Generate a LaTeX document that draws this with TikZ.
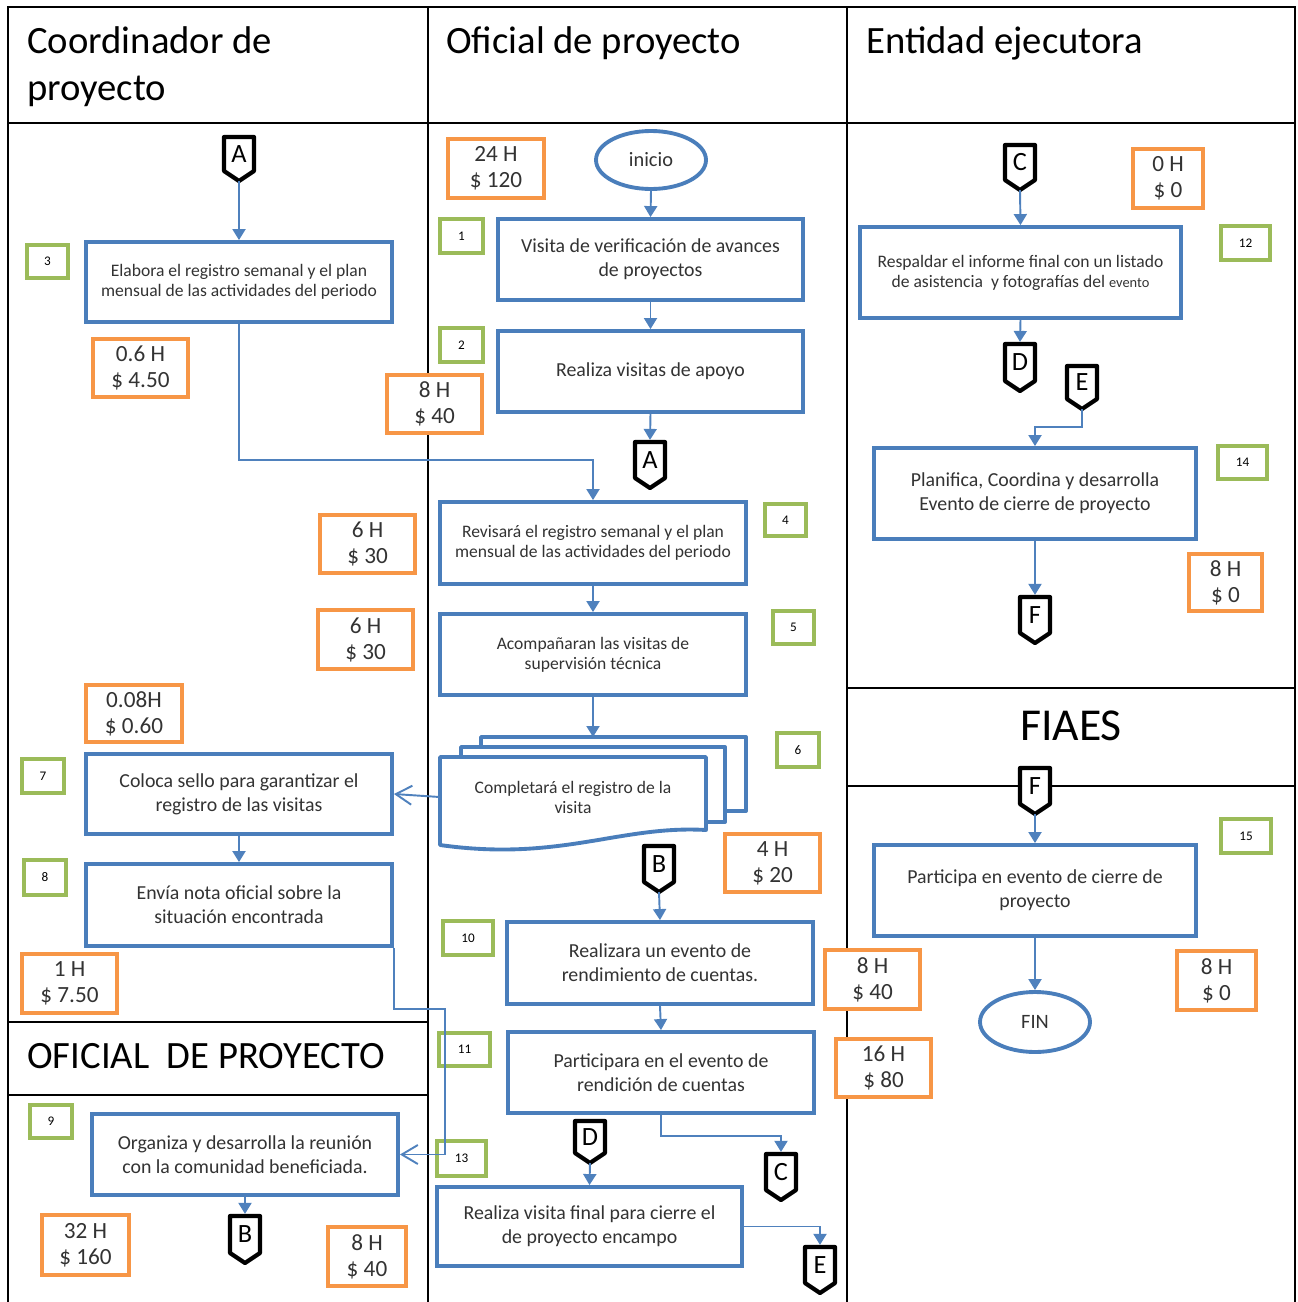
\documentclass[tikz,border=0pt]{standalone}
\usepackage{fontspec}
\setmainfont{Carlito}
\usetikzlibrary{arrows.meta,shapes.geometric}

\definecolor{boxblue}{HTML}{4A7EBB}
\definecolor{lineblue}{HTML}{4F81BD}
\definecolor{costorange}{HTML}{F79646}
\definecolor{numgreen}{HTML}{9BBB59}
\definecolor{txt}{HTML}{333333}

% process box given by its outer corners (x1,y1) (x2,y2)
\newcommand\procbox[7][]{%
  \node[proc,#1,minimum width={(#5-#3-4)*0.02cm},minimum height={(#6-#4-4)*0.02cm}]
    (#2) at ({(#3+#5)/2},{(#4+#6)/2}) {#7};}
% cost label (hours and money)
\newcommand\costbox[6]{%
  \node[cost,minimum width={(#4-#2-4)*0.02cm},minimum height={(#5-#3-4)*0.02cm}]
    (#1) at ({(#2+#4)/2},{(#3+#5)/2}) {#6};}
% step number
\newcommand\numbox[6]{%
  \node[num,minimum width={(#4-#2-4)*0.02cm},minimum height={(#5-#3-4)*0.02cm}]
    (#1) at ({(#2+#4)/2},{(#3+#5)/2}) {#6};}
% off-page connector: name, centre x, top y, tip y, letter
\newcommand\offpage[5]{%
  \filldraw[opline] ({#2-15},{#3+2}) -- ({#2+15},{#3+2}) -- ({#2+15},{#4-12})
    -- (#2,{#4-2}) -- ({#2-15},{#4-12}) -- cycle;
  \node[opbody,minimum height={(#4-#3-14)*0.02cm}] (#1) at (#2,{(#3+#4-10)/2}) {#5};
  \coordinate (#1-tip) at (#2,{#4-2});}

\begin{document}
\begin{tikzpicture}[x=0.02cm,y=-0.02cm,
  lane/.style={draw=black,line width=1.4pt},
  head/.style={inner sep=0pt,align=left,text=black,font=\fontsize{22}{26.7}\selectfont},
  headbig/.style={inner sep=0pt,text=black,font=\fontsize{26}{30}\selectfont},
  proc/.style={draw=boxblue,line width=2.2pt,fill=white,inner sep=1pt,align=center,
    text=txt,font=\fontsize{11.3}{13.6}\selectfont},
  small/.style={font=\fontsize{10}{11.4}\selectfont},
  cost/.style={draw=costorange,line width=2.2pt,fill=white,inner sep=0pt,align=center,
    text=txt,font=\fontsize{13.2}{14.8}\selectfont},
  num/.style={draw=numgreen,line width=2.2pt,fill=white,inner sep=0pt,
    text=black,font=\fontsize{7.5}{9}\selectfont},
  term/.style={ellipse,draw=boxblue,line width=2.2pt,fill=white,inner sep=0pt,
    text=txt,font=\fontsize{11.6}{13}\selectfont},
  sheet/.style={draw=boxblue,line width=2.2pt,fill=white,line join=round},
  opline/.style={draw=black,fill=white,line width=2.4pt,line join=round},
  opbody/.style={minimum width={30*0.02cm},inner sep=0pt,outer sep=1.2pt,
    text=black,font=\fontsize{15}{15}\selectfont},
  flow/.style={draw=lineblue,line width=1.1pt,-{Triangle[length=0.22cm,width=0.26cm]}},
  back/.style={draw=lineblue,line width=1.1pt,-{Straight Barb[length=0.32cm,width=0.38cm]}}]

\useasboundingbox (0,0) rectangle (1298,1302);

% swimlanes
\draw[lane] (8,1302) -- (8,7) -- (1295,7) -- (1295,1302);
\draw[lane] (428,7) -- (428,1302);
\draw[lane] (847,7) -- (847,1302);
\draw[lane] (8,123) -- (1295,123);
\draw[lane] (8,1022) -- (428,1022);
\draw[lane] (8,1095) -- (428,1095);
\draw[lane] (847,688) -- (1295,688);
\draw[lane] (847,786) -- (1295,786);

% lane titles (base of a two-line title is its last line)
\node[head,anchor=base west] (hcoord) at (27,100) {Coordinador de\\proyecto};
\node[head,anchor=base west] (hofic) at (446,53) {Oficial de proyecto};
\node[head,anchor=base west] (hent) at (866,53) {Entidad ejecutora};
\node[head,anchor=base west] (hofic2) at (27,1068) {OFICIAL\ \ DE PROYECTO};
\node[headbig,anchor=base] (hfiaes) at (1071,740) {FIAES};

% terminals
\node[term,minimum width={110*0.02cm},minimum height={58*0.02cm}] (inicio) at (651,160) {inicio};
\node[term,minimum width={110*0.02cm},minimum height={60*0.02cm}] (fin) at (1035,1022) {FIN};

% cost labels
\costbox{c1}{446}{137}{546}{200}{24 H\\\$ 120}
\costbox{c2}{385}{373}{484}{435}{8 H\\\$ 40}
\costbox{c3}{91}{337}{190}{399}{0.6 H\\\$ 4.50}
\costbox{c4}{318}{513}{417}{575}{6 H\\\$ 30}
\costbox{c5}{316}{608}{415}{671}{6 H\\\$ 30}
\costbox{c7}{84}{683}{184}{744}{0.08H\\\$ 0.60}
\costbox{c8}{20}{952}{119}{1015}{1 H\\\$ 7.50}
\costbox{c9}{40}{1213}{131}{1277}{32 H\\\$ 160}
\costbox{c13}{326}{1225}{408}{1288}{8 H\\\$ 40}
\costbox{c6}{723}{832}{822}{894}{4 H\\\$ 20}
\costbox{c10}{823}{948}{922}{1011}{8 H\\\$ 40}
\costbox{c11}{834}{1037}{933}{1099}{16 H\\\$ 80}
\costbox{c12}{1131}{147}{1205}{210}{0 H\\\$ 0}
\costbox{c14}{1187}{552}{1264}{613}{8 H\\\$ 0}
\costbox{c15}{1175}{949}{1258}{1012}{8 H\\\$ 0}

% step numbers
\numbox{g3}{25}{243}{70}{280}{3}
\numbox{g1}{438}{217}{485}{255}{1}
\numbox{g2}{438}{326}{485}{364}{2}
\numbox{g4}{763}{502}{808}{538}{4}
\numbox{g5}{771}{609}{816}{646}{5}
\numbox{g6}{775}{731}{821}{769}{6}
\numbox{g7}{20}{757}{66}{795}{7}
\numbox{g8}{22}{858}{68}{897}{8}
\numbox{g9}{28}{1103}{74}{1140}{9}
\numbox{g10}{441}{919}{495}{957}{10}
\numbox{g11}{437}{1031}{492}{1068}{11}
\numbox{g13}{435}{1139}{488}{1178}{13}
\numbox{g12}{1219}{224}{1272}{262}{12}
\numbox{g14}{1216}{444}{1269}{481}{14}
\numbox{g15}{1219}{817}{1273}{855}{15}

% process steps
\procbox[small]{b3}{84}{240}{394}{324}{Elabora el registro semanal y el plan\\mensual de las actividades del periodo}
\procbox{b1}{496}{217}{805}{302}{Visita de verificación de avances\\de proyectos}
\procbox{b2}{496}{329}{805}{414}{Realiza visitas de apoyo}
\procbox[small]{b4}{438}{500}{748}{586}{Revisará el registro semanal y el plan\\mensual de las actividades del periodo}
\procbox[small]{b5}{438}{612}{748}{697}{Acompañaran las visitas de\\supervisión técnica}
\procbox{b7}{84}{752}{394}{836}{Coloca sello para garantizar el\\registro de las visitas}
\procbox{b8}{84}{862}{394}{948}{Envía nota oficial sobre la\\situación encontrada}
\procbox{b9}{90}{1112}{400}{1197}{Organiza y desarrolla la reunión\\con la comunidad beneficiada.}
\procbox{b10}{505}{920}{815}{1006}{Realizara un evento de\\rendimiento de cuentas.}
\procbox{b11}{506}{1030}{816}{1115}{Participara en el evento de\\rendición de cuentas}
\procbox{b13}{435}{1185}{744}{1268}{Realiza visita final para cierre el\\de proyecto encampo}
\procbox[small]{b12}{858}{225}{1183}{320}{Respaldar el informe final con un listado\\de asistencia\ \ y fotografías del {\fontsize{8.2}{9}\selectfont evento}}
\procbox{b14}{872}{446}{1198}{541}{Planifica, Coordina y desarrolla\\Evento de cierre de proyecto}
\procbox{b15}{872}{843}{1198}{938}{Participa en evento de cierre de\\proyecto}

% multi-document: three stacked sheets
\filldraw[sheet] (481,737) rectangle (746,811);
\filldraw[sheet] (461,747) rectangle (725,822);
\filldraw[sheet] (440,757) -- (706,757) -- (706,830)
  .. controls (620,825) and (560,862) .. (440,845) -- cycle;
\node[small,text=txt,align=center,inner sep=0pt,minimum width={266*0.02cm},
  minimum height={80*0.02cm}] (b6) at (573,797) {Completará el registro de la\\visita};
\coordinate (b6top) at (593,737);

% off-page connectors
\offpage{A1}{239}{135}{183}{A}
\offpage{A2}{650}{440}{490}{A}
\offpage{B1}{659}{844}{894}{B}
\offpage{B2}{245}{1214}{1265}{B}
\offpage{C1}{1020}{143}{192}{C}
\offpage{C2}{781}{1152}{1202}{C}
\offpage{D1}{1020}{342}{393}{D}
\offpage{D2}{590}{1119}{1165}{D}
\offpage{E1}{1082}{364}{411}{E}
\offpage{E2}{820}{1245}{1295}{E}
\offpage{F1}{1035}{595}{645}{F}
\offpage{F2}{1035}{766}{816}{F}

% flow
\draw[flow] (A1-tip) -- (b3.north);
\draw[flow] (b3.south) -- ++(0,136) -| (b4.north);
\draw[flow] (inicio.south) -- (b1.north);
\draw[flow] (b1.south) -- (b2.north);
\draw[flow] (b2.south) -- (A2.north);
\draw[flow] (b4.south) -- (b5.north);
\draw[flow] (b5.south) -- (b6top);
\draw[back] (b6.west) -- (b7.east);
\draw[flow] (b7.south) -- (b8.north);
\draw[back] (b8.south east) -- ++(0,61) -- ++(51,0) |- (b9.east);
\draw[flow] (b9.south) -- (B2.north);
\draw[flow] (B1-tip) -- (b10.north);
\draw[flow] (b10.south) -- (b11.north);
\draw[flow] (b11.south) -- ++(0,21) -| (C2.north);
\draw[flow] (D2-tip) -- (b13.north);
\draw[flow] (b13.east) -| (E2.north);
\draw[flow] (C1-tip) -- (b12.north);
\draw[flow] (b12.south) -- (D1.north);
\draw[flow] (E1-tip) -- ++(0,18) -| (b14.north);
\draw[flow] (b14.south) -- (F1.north);
\draw[flow] (F2-tip) -- (b15.north);
\draw[flow] (b15.south) -- (fin.north);
\end{tikzpicture}
\end{document}
